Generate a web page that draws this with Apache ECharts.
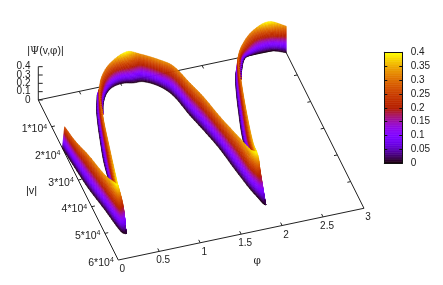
<!DOCTYPE html>
<html><head><meta charset="utf-8">
<style>html,body{margin:0;padding:0;background:#fff}#c{width:443px;height:285px}</style>
<script src="https://cdn.jsdelivr.net/npm/echarts@6/dist/echarts.min.js"></script>
</head><body><div id="c"></div>
<script>
// Values: [phi, |v|/1e4, |Psi|] for crests, [phi, |v|/1e4] for the z=0 edges
const leg1Crest=[[0.02,1.855,.27],[0.047,2.467,.29],[0.106,3.098,.31],[0.166,3.981,.34],[0.213,4.518,.40],[0.227,4.583,.40],[0.256,4.804,.20],[0.229,5.172,0]];
const leg1Edge=[[0,1.81],[0.03,2.569],[0.065,3.353],[0.129,4.208],[0.163,4.755],[0.193,5.093],[0.229,5.172],[0.229,5.172]];
const arch1Crest=[[.486,1.844,.31],[.544,1.289,.30],[.591,.945,.30],[.691,.511,.30],[.847,.173,.32],[1.059,.123,.40],[1.226,.099,.33],[1.413,.445,.33],[1.532,.717,.32],[1.622,1.413,.32],[1.694,1.973,.32],[1.768,2.771,.32],[1.86,3.70,.34],[1.899,4.291,.38],[1.942,4.473,.40],[1.948,4.664,.25],[1.932,5.187,0]];
const arch1Edge=[[.638,.911],[.70,.576],[.793,.261],[.902,.085],[1.031,.041],[1.14,.10],[1.261,.129],[1.418,.418],[1.515,.819],[1.59,1.61],[1.657,2.197],[1.735,2.971],[1.781,3.664],[1.847,4.532],[1.886,4.894],[1.911,5.117],[1.932,5.187]];
const strip1Crest=[[.617,.838,.30],[.486,1.844,.31],[.364,3.141,.33],[.295,3.866,.36],[.221,4.642,.40]];
const strip1Edge=[[.679,.252],[.572,.868],[.423,2.149],[.372,2.678],[.323,3.396]];
const arch2Crest=[[2.207,1.645,.31],[2.272,1.095,.30],[2.31,.808,.30],[2.403,.493,.31],[2.587,.114,.32],[2.789,.117,.40],[3,.17,.32]];
const arch2Edge=[[2.35,.77],[2.413,.436],[2.514,.062],[2.63,0],[2.762,0],[2.874,.022],[3,.17]];
const strip2Crest=[[2.31,.808,.30],[2.207,1.645,.31],[2.077,2.873,.33],[1.97,4.023,.36],[1.945,4.456,.40]];
const strip2Edge=[[2.331,.507],[2.264,.902],[2.154,1.768],[2.034,2.879],[2.024,3.371]];
const phiTicks=[0,0.5,1,1.5,2,2.5,3];
const vTicks=[1,2,3,4,5,6];
const zTicks=[0,0.1,0.2,0.3,0.4];
const cbMax=0.4, cbStep=0.05;

const O=[38.3,100], EP=[81.9,-17.25], EV=[13.33,26.67], EZ=83.3;
const proj=(p,v,z)=>[O[0]+EP[0]*p+EV[0]*v, O[1]+EP[1]*p+EV[1]*v-EZ*(z||0)];
function palette(z){
  const x=Math.max(0,Math.min(1,z/0.4));
  const r=Math.sqrt(x), g=x*x*x, b=Math.max(0,Math.sin(2*Math.PI*x));
  return 'rgb('+Math.round(r*255)+','+Math.round(g*255)+','+Math.round(b*255)+')';
}
const lerp=(a,b,t)=>a+(b-a)*t;
function curve(pts){
  const P=pts.map(q=>[q[0],q[1],q[2]||0]);
  const d=[];for(let i=0;i<P.length-1;i++){const A=proj(P[i][0],P[i][1],P[i][2]),B=proj(P[i+1][0],P[i+1][1],P[i+1][2]);d.push(Math.hypot(A[0]-B[0],A[1]-B[1])+0.01);}
  return (s,u)=>{
    const a=P[s],b=P[s+1],pv=P[Math.max(0,s-1)],nx=P[Math.min(P.length-1,s+2)];
    const d0=d[Math.max(0,s-1)],d1=d[s],d2=d[Math.min(d.length-1,s+1)];
    const u2=u*u,u3=u2*u;
    return [0,1,2].map(k=>{
      const m0=s>0?(b[k]-pv[k])*d1/(d0+d1):(b[k]-a[k]);
      const m1=s<P.length-2?(nx[k]-a[k])*d1/(d1+d2):(b[k]-a[k]);
      return (2*u3-3*u2+1)*a[k]+(u3-2*u2+u)*m0+(-2*u3+3*u2)*b[k]+(u3-u2)*m1;
    });
  };
}
const quads=[];
function ribbon(crest,edge){
  const NA=6,NB=26,C=curve(crest),E=curve(edge);
  const pt=(s,u,t)=>{const c=C(s,u),e=E(s,u);return [lerp(e[0],c[0],t),lerp(e[1],c[1],t),Math.max(0,c[2])*t];};
  for(let s=0;s<crest.length-1;s++)for(let a=0;a<NA;a++)for(let b=0;b<NB;b++){
    const u0=a/NA,u1=(a+1)/NA,t0=b/NB,t1=(b+1)/NB;
    const c=[pt(s,u0,t0),pt(s,u1,t0),pt(s,u1,t1),pt(s,u0,t1)];
    quads.push({c,col:palette((c[0][2]+c[1][2]+c[2][2]+c[3][2])/4)});
  }
}
ribbon(strip2Crest,strip2Edge);
ribbon(arch2Crest,arch2Edge);
ribbon(strip1Crest,strip1Edge);
ribbon(arch1Crest,arch1Edge);
ribbon(leg1Crest,leg1Edge);

const segs=[];
const seg=(a,b)=>segs.push([a,b]);
seg([0,6,0],[3,6,0]); seg([3,6,0],[3,0,0]); seg([3,0,0],[0,0,0]); seg([0,0,0],[0,6,0]); seg([0,0,0],[0,0,.4]);
const tickV=0.11, tickP=0.04;
phiTicks.slice(1,-1).forEach(p=>{seg([p,6,0],[p,6-tickV,0]);seg([p,0,0],[p,tickV,0]);});
vTicks.slice(0,-1).forEach(v=>{seg([0,v,0],[tickP,v,0]);seg([3,v,0],[3-tickP,v,0]);});
zTicks.forEach(z=>{segs.push([[0,0,z],[0,0,z],1]);});

const labels=[];
phiTicks.forEach(p=>{const q=proj(p,6,0);labels.push({x:q[0]+4,y:q[1]+9.3,text:String(p),align:'center'});});
vTicks.forEach(v=>{const q=proj(0,v,0);labels.push({x:q[0]-4.5,y:q[1]+2.7,text:'{a|'+v+'*10}{s|4}',align:'right'});});
zTicks.forEach(z=>{const q=proj(0,0,z);labels.push({x:30.5,y:q[1],text:String(z),align:'right'});});
labels.push({x:45.5,y:51.5,text:'{a||}{g|Ψ}{a|(v,}{g|φ}{a|)|}',align:'center'});
labels.push({x:31.5,y:191,text:'{b||v|}',align:'center'});
labels.push({x:257.3,y:261.5,text:'{g|φ}',align:'center'});
const rich={a:{fontFamily:'Liberation Sans',fontSize:10.5,color:'#222'},
  b:{fontFamily:'Liberation Sans',fontSize:11,color:'#222'},
  s:{fontFamily:'Liberation Sans',fontSize:7,color:'#222',verticalAlign:'top',padding:[0,0,5,0]},
  g:{fontFamily:'DejaVu Serif',fontSize:10.5,color:'#222'}};

const cbLevels=[];for(let i=0;i<160;i++)cbLevels.push(i*0.0025);

const chart=echarts.init(document.getElementById('c'),null,{renderer:'canvas',width:443,height:285});
const fs=10;
chart.setOption({
  animation:false,backgroundColor:'#fff',
  grid:[{left:0,right:0,top:0,bottom:0},{left:384.3,width:18,top:52.3,height:111}],
  xAxis:[{gridIndex:0,type:'value',min:0,max:443,show:false},
    {gridIndex:1,type:'value',min:0,max:1,position:'bottom',z:5,axisLine:{show:true,onZero:false,lineStyle:{color:'#111',width:1}},axisTick:{show:false},axisLabel:{show:false},splitLine:{show:false}},
    {gridIndex:1,type:'value',min:0,max:1,position:'top',z:5,axisLine:{show:true,onZero:false,lineStyle:{color:'#111',width:1}},axisTick:{show:false},axisLabel:{show:false},splitLine:{show:false}}],
  yAxis:[{gridIndex:0,type:'value',min:0,max:285,inverse:true,show:false},
    {gridIndex:1,type:'value',min:0,max:cbMax,interval:cbStep,position:'right',z:5,
     axisLine:{show:true,onZero:false,lineStyle:{color:'#111',width:1}},
     axisTick:{show:true,inside:true,length:3,lineStyle:{color:'#111'}},
     axisLabel:{show:true,margin:8.4,fontFamily:'Liberation Sans',fontSize:fs,color:'#222'},splitLine:{show:false}},
    {gridIndex:1,type:'value',min:0,max:cbMax,interval:cbStep,position:'left',z:5,
     axisLine:{show:true,onZero:false,lineStyle:{color:'#111',width:1}},
     axisTick:{show:true,inside:true,length:3,lineStyle:{color:'#111'}},
     axisLabel:{show:false},splitLine:{show:false}}],
  series:[
    {type:'custom',xAxisIndex:0,yAxisIndex:0,silent:true,data:segs.map((s,i)=>[i]),z:1,
     renderItem:(pr,api)=>{const s=segs[api.value(0)];
       const a=api.coord(proj(s[0][0],s[0][1],s[0][2])),b=api.coord(proj(s[1][0],s[1][1],s[1][2]));
       const dx=s[2]?4.4:0;
       return {type:'line',shape:{x1:a[0],y1:a[1],x2:b[0]+dx,y2:b[1]},style:{stroke:'#222',lineWidth:1,fill:null}};}},
    {type:'custom',xAxisIndex:0,yAxisIndex:0,silent:true,data:quads.map((q,i)=>[i]),z:2,progressive:0,
     renderItem:(pr,api)=>{const q=quads[api.value(0)];
       return {type:'polygon',shape:{points:q.c.map(c=>api.coord(proj(c[0],c[1],c[2])))},style:{fill:q.col,stroke:q.col,lineWidth:0.5}};}},
    {type:'custom',xAxisIndex:0,yAxisIndex:0,silent:true,data:labels.map((l,i)=>[i]),z:3,
     renderItem:(pr,api)=>{const l=labels[api.value(0)];const c=api.coord([l.x,l.y]);
       return {type:'text',x:c[0],y:c[1],style:{text:l.text,align:l.align,verticalAlign:'middle',fontFamily:'Liberation Sans',fontSize:fs,fill:'#222',rich:rich}};}},
    {type:'custom',xAxisIndex:1,yAxisIndex:1,silent:true,data:cbLevels.map(v=>[v]),z:2,
     renderItem:(pr,api)=>{const v=api.value(0);const a=api.coord([0,v+0.0025]),b=api.coord([1,v]);
       return {type:'rect',shape:{x:a[0],y:a[1],width:b[0]-a[0],height:b[1]-a[1]+0.5},style:{fill:palette(v+0.00125)}};}}
  ]
});
</script></body></html>
